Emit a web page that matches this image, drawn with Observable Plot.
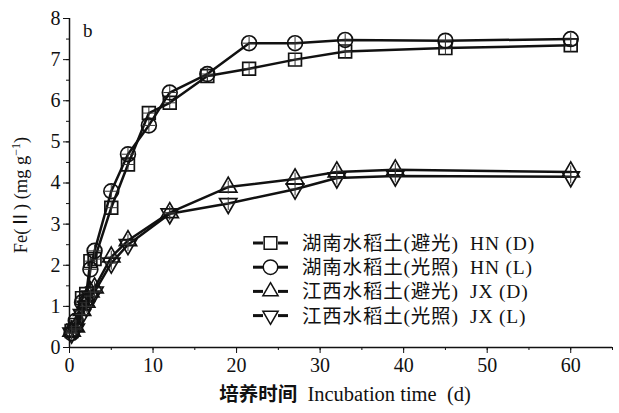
<!DOCTYPE html>
<html>
<head>
<meta charset="utf-8">
<script src="https://cdn.jsdelivr.net/npm/d3@7"></script>
<script src="https://cdn.jsdelivr.net/npm/@observablehq/plot@0.6"></script>
<style>
  body { margin: 0; background: #fff; }
  #chart svg { display: block; }
</style>
</head>
<body>
<div id="chart"></div>
<script>
// ---- data ----
const hnDays = [0.25, 0.75, 1.5, 2, 2.5, 3, 5, 7, 9.5, 12, 16.5, 21.5, 27, 33, 45, 60];
const hnDark = [0.4, 0.55, 1.2, 1.3, 2.1, 2.15, 3.4, 4.45, 5.7, 5.95, 6.6, 6.78, 7.0, 7.2, 7.28, 7.35];
const hnLight = [0.35, 0.65, 1.1, 1.1, 1.9, 2.35, 3.8, 4.7, 5.4, 6.2, 6.65, 7.4, 7.4, 7.48, 7.46, 7.5];

const jxDays = [0.25, 0.75, 1.5, 2, 2.5, 3, 5, 7, 12, 19, 27, 32, 39, 60];
const jxDark = [0.4, 0.5, 0.9, 1.1, 1.35, 1.45, 2.2, 2.6, 3.28, 3.9, 4.1, 4.27, 4.32, 4.27];
const jxLight = [0.35, 0.45, 0.8, 1.0, 1.25, 1.35, 2.05, 2.5, 3.25, 3.5, 3.85, 4.12, 4.17, 4.15];

const seriesNames = ["湖南水稻土(避光)  HN (D)", "湖南水稻土(光照)  HN (L)", "江西水稻土(避光)  JX (D)", "江西水稻土(光照)  JX (L)"];
const xTicks = [0, 10, 20, 30, 40, 50, 60];
const yTicks = [0, 1, 2, 3, 4, 5, 6, 7, 8];

// inverted triangle symbol
const triangleDown = {
  draw(context, size) {
    const y = -Math.sqrt(size / (Math.sqrt(3) * 3));
    context.moveTo(0, -y * 2);
    context.lineTo(-Math.sqrt(3) * y, y);
    context.lineTo(Math.sqrt(3) * y, y);
    context.closePath();
  }
};
const triangleUp = d3.symbolTriangle;

const toRows = (days, vals) => days.map((d, i) => ({day: d, v: vals[i]}));
const series = [
  {rows: toRows(hnDays, hnDark), symbol: "square", r: 7.2},
  {rows: toRows(hnDays, hnLight), symbol: "circle", r: 7.4},
  {rows: toRows(jxDays, jxDark), symbol: triangleUp, r: 6.4},
  {rows: toRows(jxDays, jxLight), symbol: triangleDown, r: 6.4}
];

const serif = "'Liberation Serif', 'Times New Roman', serif";
const font = "'Liberation Serif', 'Times New Roman', 'Noto Sans CJK SC', serif";
const cjk = "'Noto Sans CJK SC', sans-serif";

const marks = [];
for (const s of series) {
  marks.push(Plot.line(s.rows, {x: "day", y: "v", stroke: "#111", strokeWidth: 2.5}));
}
for (const s of series) {
  marks.push(Plot.dot(s.rows, {x: "day", y: "v", symbol: () => s.symbol, r: s.r, stroke: "#111", strokeWidth: 1.7, fill: "none"}));
  marks.push(Plot.dot(s.rows, {x: "day", y: "v", symbol: "plus", r: 4.2, stroke: "#333", strokeWidth: 1}));
}

const plot = Plot.plot({
  width: 619,
  height: 413,
  marginLeft: 69,
  marginRight: 7,
  marginTop: 18,
  marginBottom: 66,
  style: {fontFamily: font, fontSize: "19px", color: "#111", background: "#fff"},
  x: {domain: [0, 65]},
  y: {domain: [0, 8]},
  symbol: {type: "identity"},
  marks: [
    Plot.axisX({ticks: d3.range(0, 66, 5), tickSize: 3, text: null, label: null, stroke: "#111"}),
    Plot.axisX({ticks: xTicks, tickSize: 6, tickPadding: 4, label: null, fontSize: 20, fill: "#111", stroke: "#111"}),
    Plot.axisY({ticks: d3.range(0, 8.01, 0.5), tickSize: 3, text: null, label: null, stroke: "#111"}),
    Plot.axisY({ticks: yTicks, tickSize: 6, tickPadding: 3, label: null, fontSize: 20, fill: "#111", stroke: "#111"}),
    Plot.ruleX([0], {stroke: "#111", strokeWidth: 1.5}),
    Plot.ruleY([0], {stroke: "#111", strokeWidth: 1.5}),
    ...marks
  ]
});

document.getElementById("chart").appendChild(plot);

const svg = d3.select(plot);
// force serif tick labels
svg.selectAll("text").style("font-family", serif);

const sx = plot.scale("x"), sy = plot.scale("y");
const x0 = sx.apply(0), yTop = sy.apply(8);

svg.append("text").attr("x", x0 + 14).attr("y", yTop + 19).attr("text-anchor", "start")
  .style("font-family", serif).attr("font-size", 19).attr("fill", "#111").text("b");

// x-axis title
const xt = svg.append("text").attr("x", 345).attr("y", 401)
  .attr("text-anchor", "middle").style("font-family", serif).attr("font-size", 20.5).attr("fill", "#111");
xt.append("tspan").attr("font-weight", "bold").attr("font-size", 19.5).style("font-family", cjk).text("培养时间");
xt.append("tspan").text("\u00a0 Incubation time \u00a0(d)");

// y-axis title
const yt = svg.append("text").attr("transform", `translate(27,195) rotate(-90)`)
  .attr("text-anchor", "middle").style("font-family", font).attr("font-size", 18.5).attr("fill", "#111");
yt.append("tspan").text("Fe(Ⅱ) (mg g");
yt.append("tspan").attr("font-size", 12).attr("dy", -7).text("−1");
yt.append("tspan").attr("dy", 7).text(")");

// legend
const legendSymbols = [d3.symbolSquare, d3.symbolCircle, d3.symbolTriangle, triangleDown];
const legendSizes = [160, 165, 100, 100];
const lg = svg.append("g").attr("transform", `translate(253,243)`);
seriesNames.forEach((name, i) => {
  const g = lg.append("g").attr("transform", `translate(0,${i * 24.2})`);
  g.append("line").attr("x1", 0).attr("x2", 10).attr("y1", 0).attr("y2", 0).attr("stroke", "#111").attr("stroke-width", 3);
  g.append("line").attr("x1", 25).attr("x2", 35).attr("y1", 0).attr("y2", 0).attr("stroke", "#111").attr("stroke-width", 3);
  g.append("path").attr("transform", "translate(17.5,0)").attr("d", d3.symbol(legendSymbols[i], legendSizes[i])())
    .attr("fill", "#fff").attr("stroke", "#111").attr("stroke-width", 1.5);
  g.append("text").attr("x", 49).attr("y", 7).attr("text-anchor", "start")
    .style("font-family", font).attr("font-size", 19.5).attr("letter-spacing", 0.8)
    .style("white-space", "pre").attr("fill", "#111").text(name);
});
</script>
</body>
</html>
